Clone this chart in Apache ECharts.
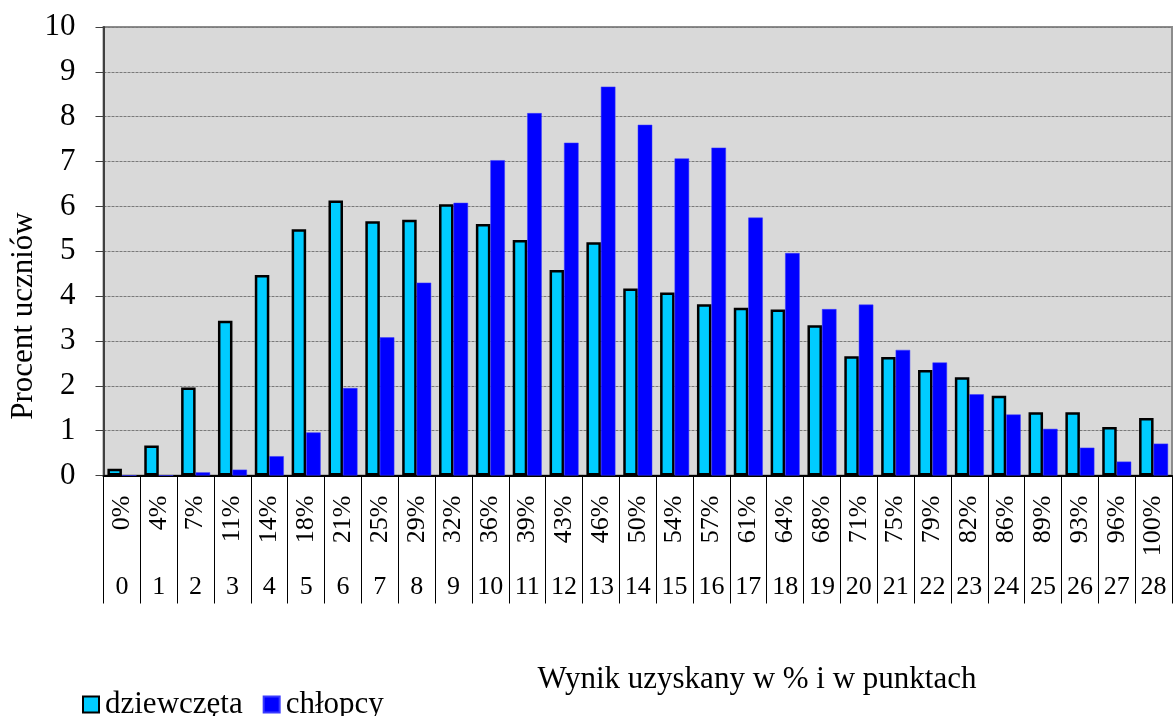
<!DOCTYPE html>
<html>
<head>
<meta charset="utf-8">
<script src="https://cdn.jsdelivr.net/npm/echarts@6/dist/echarts.min.js"></script>
<style>
html,body{margin:0;padding:0;background:#fff;}
#chart{width:1174px;height:716px;}
</style>
</head>
<body>
<div id="chart"></div>
<script>
const points = ['0','1','2','3','4','5','6','7','8','9','10','11','12','13','14','15','16','17','18','19','20','21','22','23','24','25','26','27','28'];
const percents = ['0%','4%','7%','11%','14%','18%','21%','25%','29%','32%','36%','39%','43%','46%','50%','54%','57%','61%','64%','68%','71%','75%','79%','82%','86%','89%','93%','96%','100%'];
const girls = [0.15,0.67,1.96,3.45,4.47,5.49,6.13,5.67,5.70,6.05,5.61,5.25,4.58,5.20,4.17,4.08,3.82,3.74,3.70,3.35,2.66,2.64,2.35,2.19,1.78,1.41,1.41,1.08,1.28];
const boys = [0,0,0.07,0.13,0.43,0.96,1.95,3.08,4.30,6.08,7.03,8.08,7.42,8.67,7.82,7.07,7.31,5.75,4.96,3.71,3.81,2.80,2.52,1.81,1.36,1.04,0.62,0.31,0.71];
const seriesNames = ['dziewczęta','chłopcy'];
const yTitle = 'Procent uczniów';
const xTitle = 'Wynik uzyskany w % i w punktach';

const FONT = 'Liberation Serif';
const chart = echarts.init(document.getElementById('chart'), null, {renderer:'canvas'});
chart.setOption({
  animation: false,
  backgroundColor: '#ffffff',
  textStyle: {fontFamily: FONT, color: '#000'},
  grid: {
    left: 103.5, right: 2, top: 27, bottom: 240.5,
    show: true, backgroundColor: '#D9D9D9', borderColor: '#8c8c8c', borderWidth: 2
  },
  title: {
    text: xTitle, left: 752, top: 659, textAlign: 'center',
    textStyle: {fontFamily: FONT, fontSize: 31, fontWeight: 'normal', color: '#000'}
  },
  graphic: [{
    type: 'text', x: 24, y: 316, rotation: Math.PI/2,
    style: {text: yTitle, font: '31px "Liberation Serif"', fill: '#000', textAlign: 'center', textVerticalAlign: 'middle'}
  }],
  legend: {
    left: 77, top: 684, itemWidth: 16, itemHeight: 16, itemGap: 20, icon: 'rect',
    textStyle: {fontFamily: FONT, fontSize: 31, color: '#000', padding: [0,0,0,1]},
    data: seriesNames
  },
  xAxis: [{
    type: 'category', data: percents, position: 'bottom',
    axisLine: {show: true, lineStyle: {color: '#000', width: 2}},
    axisTick: {show: true, length: 128, lineStyle: {color: '#000', width: 1}},
    axisLabel: {rotate: 90, margin: 20, fontFamily: FONT, fontSize: 26, color: '#000', interval: 0},
    splitLine: {show: false}
  },{
    type: 'category', data: points, position: 'bottom', offset: 0,
    axisLine: {show: false}, axisTick: {show: false},
    axisLabel: {margin: 99, fontFamily: FONT, fontSize: 26, color: '#000', interval: 0},
    splitLine: {show: false}
  }],
  yAxis: {
    type: 'value', min: 0, max: 10, interval: 1,
    axisLine: {show: true, lineStyle: {color: '#404040', width: 2}},
    axisTick: {show: true, length: 8, lineStyle: {color: '#404040', width: 1}},
    axisLabel: {margin: 28, fontFamily: FONT, fontSize: 31, color: '#000'},
    splitLine: {show: true, lineStyle: {color: '#7a7a7a', type: [3,1], width: 1}}
  },
  series: [{
    name: seriesNames[0], type: 'bar', data: girls, xAxisIndex: 0,
    barGap: '0%', barWidth: 14.5,
    itemStyle: {color: '#00CCFF', borderColor: '#000', borderWidth: 2.5}
  },{
    name: seriesNames[1], type: 'bar', data: boys, xAxisIndex: 0,
    barWidth: 14.5,
    itemStyle: {color: '#0000FF', borderColor: '#3a3aff', borderWidth: 0.5}
  }]
});
</script>
</body>
</html>
